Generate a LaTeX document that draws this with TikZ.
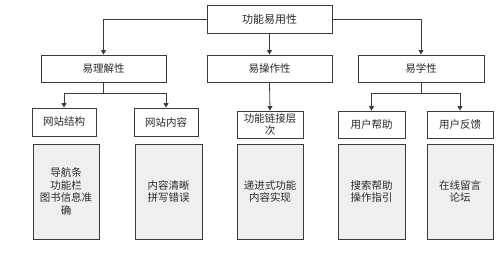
\documentclass[tikz,border=0pt]{standalone}
\usepackage{fontspec}
\setmainfont{Noto Sans CJK SC}
\usetikzlibrary{arrows.meta}
\definecolor{edge}{HTML}{3A3A3A}
\definecolor{txt}{HTML}{2A2A2A}
\definecolor{boxfill}{HTML}{EFEFEF}
\tikzset{
  box/.style={draw=edge, line width=0.9pt, fill=white, text=txt, align=center, inner sep=0pt, font=\fontsize{10.5}{12.5}\selectfont},
  bigbox/.style={box, minimum height=28pt},
  midbox/.style={box, minimum height=28pt},
  detail/.style={box, fill=boxfill, minimum height=95pt},
  arr/.style={draw=edge, line width=0.8pt, -{Triangle[length=4.5pt,width=5pt]}},
  ln/.style={draw=edge, line width=0.8pt}
}
\begin{document}
\begin{tikzpicture}[x=1pt,y=-1pt]
\useasboundingbox (0,0) rectangle (499,259);
% level 1
\node[bigbox, minimum width=125pt, font=\fontsize{11}{13}\selectfont] (top) at (269.5,19) {功能易用性};
% level 2
\node[bigbox, minimum width=125pt, minimum height=27pt] (l1) at (103.5,68.5) {易理解性};
\node[bigbox, minimum width=125pt, minimum height=27pt] (l2) at (269.5,68.5) {易操作性};
\node[bigbox, minimum width=126pt, minimum height=27pt] (l3) at (421,68.5) {易学性};
% level 3
\node[midbox, minimum width=64pt] (a1) at (64,122) {网站结构};
\node[midbox, minimum width=64pt] (a2) at (166,122) {网站内容};
\node[midbox, minimum width=66pt, minimum height=27pt] (b1) at (270,124.5) {功能链接层\\次};
\node[midbox, minimum width=67pt, minimum height=27pt] (c1) at (371.5,124.5) {用户帮助};
\node[midbox, minimum width=66pt, minimum height=27pt] (c2) at (460,124.5) {用户反馈};
% details
\node[detail, minimum width=66pt] (d1) at (66,191.5) {导航条\\功能栏\\图书信息准\\确};
\node[detail, minimum width=67pt] (d2) at (168.5,191.5) {内容清晰\\拼写错误};
\node[detail, minimum width=66pt] (d3) at (270,191.5) {递进式功能\\内容实现};
\node[detail, minimum width=67pt] (d4) at (371.5,191.5) {搜索帮助\\操作指引};
\node[detail, minimum width=66pt] (d5) at (460,191.5) {在线留言\\论坛};
% connectors level1 -> level2
\draw[arr] (top.west) -| (l1.north);
\draw[arr] (top.south) -- (l2.north);
\draw[arr] (top.east) -| (l3.north);
% junctions
\coordinate (j1) at (103.5,93);
\coordinate (j3) at (421,93);
\draw[ln] (l1.south) -- (j1);
\draw[arr] (j1) -| (a1.north);
\draw[arr] (j1) -| (a2.north);
\draw[arr] (l2.south) -- (b1.north);
\draw[ln] (l3.south) -- (j3);
\draw[arr] (j3) -| (c1.north);
\draw[arr] (j3) -| (c2.north);
\end{tikzpicture}
\end{document}
